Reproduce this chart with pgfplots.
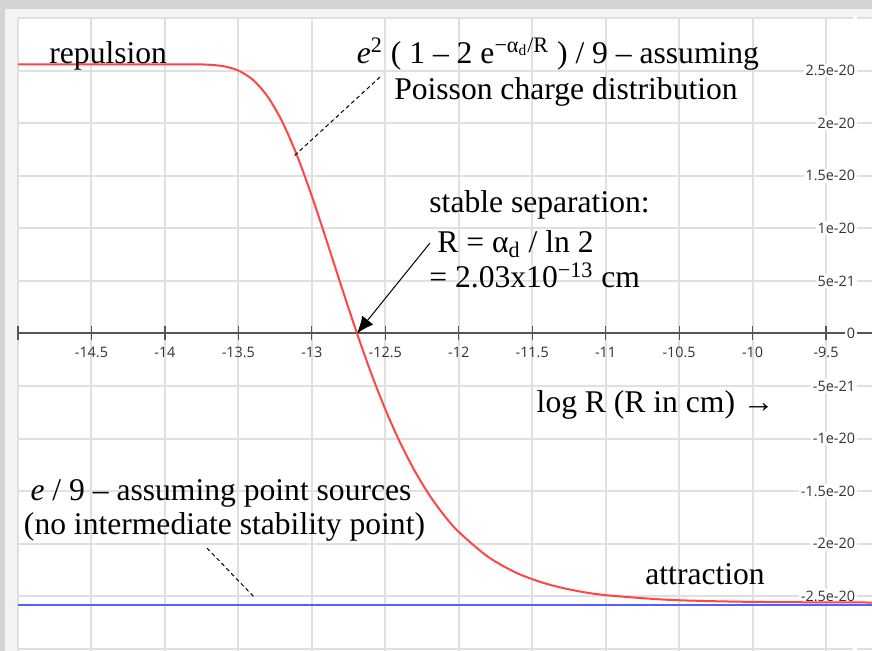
\documentclass[border=0pt]{standalone}
\usepackage{fontspec}
\setmainfont{Liberation Serif}
\newfontfamily\ticklabelfont{Open Sans}
\usepackage{pgfplots}
\pgfplotsset{compat=1.18}
\usetikzlibrary{arrows.meta}

\definecolor{framegray}{RGB}{212,212,212}
\definecolor{framelight}{RGB}{243,243,243}
\definecolor{gridgray}{RGB}{224,224,224}
\definecolor{axisgray}{RGB}{85,85,85}
\definecolor{curvered}{RGB}{255,70,70}
\definecolor{lineblue}{RGB}{85,95,255}

\newcommand{\annot}{\fontsize{15.8}{18.5}\selectfont}
\newcommand{\tickfont}{\ticklabelfont\fontsize{7.2}{8}\selectfont}

\begin{document}
\begin{tikzpicture}
% window frame
\fill[framegray] (0,0) rectangle (436pt,325.5pt);
\fill[framelight] (2.5pt,0) rectangle (436pt,321pt);

\begin{axis}[
  name=ax, at={(9pt,0pt)}, anchor=south west,
  scale only axis, width=427pt, height=316.5pt,
  xmin=-15, xmax=-9.187, ymin=-3.02e-20, ymax=3e-20,
  axis background/.style={fill=white},
  axis x line=middle, axis y line=right,
  every inner x axis line/.append style={-},
  x axis line style={-, draw=axisgray, line width=1pt},
  y axis line style={draw=none},
  scaled y ticks=false, scaled x ticks=false,
  xtick={-15,-14.5,-14,-13.5,-13,-12.5,-12,-11.5,-11,-10.5,-10,-9.5},
  xticklabels={{},-14.5,-14,-13.5,-13,-12.5,-12,-11.5,-11,-10.5,-10,-9.5},
  ytick={-3e-20,-2.5e-20,-2e-20,-1.5e-20,-1e-20,-5e-21,0,5e-21,1e-20,1.5e-20,2e-20,2.5e-20,3e-20},
  yticklabels={{},-2.5e-20,-2e-20,-1.5e-20,-1e-20,-5e-21,0,5e-21,1e-20,1.5e-20,2e-20,2.5e-20,{}},
  grid=major,
  major grid style={draw=gridgray, line width=1pt},
  major tick length=7pt, tick align=center,
  xtick style={draw=axisgray, line width=0.6pt},
  ytick style={draw=none},
  xticklabel style={font=\tickfont, text=black!80},
  yticklabel style={font=\tickfont, text=black!80, anchor=east, fill=white, inner sep=0.8pt, xshift=-11pt},
]

% e^2 (1 - 2 e^{-alpha_d/R}) / 9, Poisson charge distribution
\addplot[curvered, line width=1pt, smooth] coordinates {
(-15.0,2.560e-20) (-14.5,2.560e-20) (-14.0,2.560e-20) (-13.9,2.5599e-20)
(-13.8,2.5592e-20) (-13.7,2.5555e-20) (-13.6,2.5411e-20) (-13.5,2.5001e-20)
(-13.4,2.4108e-20) (-13.3,2.2510e-20) (-13.2,2.0099e-20) (-13.1,1.6896e-20)
(-13.0,1.3064e-20) (-12.9,0.8855e-20) (-12.8,0.4534e-20) (-12.7,0.0307e-20)
(-12.6,-0.3640e-20) (-12.5,-0.7209e-20) (-12.4,-1.0353e-20) (-12.3,-1.3064e-20)
(-12.2,-1.5368e-20) (-12.1,-1.7288e-20) (-12.0,-1.8877e-20) (-11.8,-2.1248e-20)
(-11.6,-2.2812e-20) (-11.4,-2.3823e-20) (-11.2,-2.4476e-20) (-11.0,-2.4888e-20)
(-10.6,-2.5313e-20) (-10.2,-2.5485e-20) (-9.8,-2.5554e-20) (-9.187,-2.5590e-20)
};

% e / 9, point sources
\addplot[lineblue, line width=1pt] coordinates {
(-15.0,-2.585e-20) (-9.187,-2.585e-20)
};

% annotations
\node[anchor=base west, font=\annot, inner sep=0] at (rel axis cs:0.0363,0.9289) {repulsion};
\node[anchor=base, font=\annot, inner sep=0] at (rel axis cs:0.6323,0.9289)
  {\textit{e}\textsuperscript{2} ( 1 – 2 e\textsuperscript{−α\textsubscript{d}/R} ) / 9 – assuming};
\node[anchor=base, font=\annot, inner sep=0] at (rel axis cs:0.6417,0.8705) {Poisson charge distribution};
\draw[black, line width=0.5pt, dash pattern=on 2pt off 1.5pt]
  (rel axis cs:0.4239,0.9068) -- (rel axis cs:0.3220,0.7804);

\node[anchor=base west, font=\annot, inner sep=0] at (rel axis cs:0.4813,0.6935) {stable separation:};
\node[anchor=base west, font=\annot, inner sep=0] at (rel axis cs:0.4906,0.6303) {R = α\textsubscript{d} / ln 2};
\node[anchor=base west, font=\annot, inner sep=0] at (rel axis cs:0.4813,0.5735) {= 2.03x10\textsuperscript{−13} cm};
\draw[black, line width=0.5pt, -{Latex[length=8.5pt,width=7pt]}]
  (rel axis cs:0.4824,0.6445) -- (axis cs:-12.6925,0);

\node[anchor=base east, font=\annot, inner sep=0] at (rel axis cs:0.8864,0.3760) {log R (R in cm) →};

\node[anchor=base, font=\annot, inner sep=0] at (rel axis cs:0.2377,0.2385) {\textit{e} / 9 – assuming point sources};
\node[anchor=base, font=\annot, inner sep=0] at (rel axis cs:0.2418,0.1833) {(no intermediate stability point)};
\draw[black, line width=0.5pt, dash pattern=on 2pt off 1.5pt]
  (rel axis cs:0.2213,0.1627) -- (rel axis cs:0.2775,0.0837);

\node[anchor=base west, font=\annot, inner sep=0] at (rel axis cs:0.7342,0.1043) {attraction};
\end{axis}

\pgfresetboundingbox
\useasboundingbox (0,0) rectangle (436pt,325.5pt);
\end{tikzpicture}
\end{document}
